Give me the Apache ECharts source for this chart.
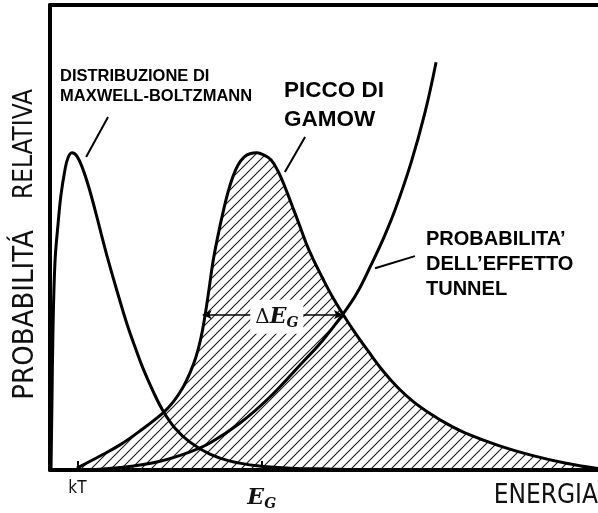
<!DOCTYPE html>
<html><head><meta charset="utf-8">
<script src="https://cdn.jsdelivr.net/npm/echarts@6/dist/echarts.min.js"></script>
<style>html,body{margin:0;padding:0;background:#fff}#c{width:598px;height:513px}</style>
</head><body><div id="c"></div>
<script>
// Energy in units (kT ~ 1.1), probability in relative units 0..100
const mbEnergy = [0.04, 0.08, 0.12, 0.20, 0.32, 0.44, 0.60, 0.72, 0.88, 1.08, 1.32, 1.57, 1.81, 2.05, 2.29, 2.69, 3.09, 3.41, 3.73, 4.14, 4.54, 5.02, 5.62, 6.42, 7.23, 8.31, 9.64, 11.24, 13.25];
const mbProb   = [0, 15.1, 30.1, 44.7, 52.7, 59.1, 64.5, 67.1, 68.2, 67.5, 64.7, 60.6, 55.9, 50.9, 46.0, 38.5, 31.4, 26.5, 21.9, 16.9, 12.7, 9.0, 6.0, 3.4, 1.9, 0.9, 0.4, 0.2, 0];

const gamowEnergy = [1.08, 2.01, 2.81, 3.61, 4.54, 4.94, 5.30, 5.62, 5.86, 6.06, 6.22, 6.38, 6.54, 6.74, 6.95, 7.15, 7.35, 7.55, 7.79, 8.03, 8.31, 8.59, 8.87, 9.15, 9.43, 9.71, 10.04, 10.28, 10.56, 10.92, 11.32, 11.76, 12.25, 12.77, 13.37, 13.97, 14.61, 15.30, 15.98, 16.66, 17.99, 19.31, 20.67, 22.00];
const gamowProb   = [0.4, 3.0, 5.4, 8.4, 12.3, 14.6, 17.4, 20.9, 24.3, 28.4, 33.1, 38.7, 44.7, 50.3, 55.5, 59.8, 63.2, 65.6, 67.3, 68.0, 68.2, 67.7, 66.7, 64.3, 60.9, 57.0, 52.3, 48.8, 45.4, 41.5, 37.4, 33.5, 29.5, 25.6, 21.3, 17.7, 14.6, 12.0, 9.8, 8.0, 5.3, 3.2, 1.5, 0.3];

const tunnelEnergy = [1.41, 2.93, 4.42, 5.62, 6.42, 7.63, 8.83, 10.04, 10.92, 11.76, 12.33, 12.89, 13.41, 13.85, 14.49, 15.05, 15.50];
const tunnelProb   = [0, 0.6, 1.9, 3.9, 5.8, 10.1, 15.7, 22.6, 27.7, 33.5, 38.1, 44.1, 50.1, 55.9, 66.0, 76.8, 87.7];

const tickValues = [1.1, 8.5];
const tickLabels = ['kT', 'E_G'];

const deltaEG = { from: 6.13, to: 11.76, level: 33.4 };

const leaderMB = [[1.45, 67.3], [2.33, 75.9]];
const leaderGamow = [[9.43, 64.1], [10.24, 71.6]];
const leaderTunnel = [[13.05, 43.4], [14.65, 46.0]];

const zip = (xs, ys) => xs.map((x, i) => [x, ys[i]]);

// hatch pattern
const S = 10;
const pat = document.createElement('canvas');
pat.width = S; pat.height = S;
const pc = pat.getContext('2d');
pc.strokeStyle = '#1a1a1a';
pc.lineWidth = 1.1;
pc.beginPath();
pc.moveTo(-1, S + 1); pc.lineTo(S + 1, -1);
pc.moveTo(-S / 2 - 1, S / 2 + 1); pc.lineTo(S / 2 + 1, -S / 2 - 1);
pc.moveTo(S / 2 - 1, S * 1.5 + 1); pc.lineTo(S * 1.5 + 1, S / 2 - 1);
pc.stroke();

const condensed = '"DejaVu Sans Condensed", "Liberation Sans Narrow", "DejaVu Sans", sans-serif';
const boldSans = '"Liberation Sans", Arial, sans-serif';
const serif = '"DejaVu Serif", "Liberation Serif", serif';

const chart = echarts.init(document.getElementById('c'), null, { renderer: 'canvas' });

const leaderLine = (pts) => [{ coord: pts[0] }, { coord: pts[1] }];

chart.setOption({
  backgroundColor: '#fff',
  animation: false,
  grid: { left: 50, right: 0, top: 5, bottom: 43 },
  xAxis: [{
    type: 'value', min: 0, max: 22,
    axisLine: { show: true, onZero: false, lineStyle: { color: '#000', width: 4 } },
    axisTick: { show: true, inside: true, length: 9, customValues: tickValues, lineStyle: { color: '#000', width: 2 } },
    axisLabel: {
      show: true, customValues: tickValues, margin: 10,
      formatter: (v) => {
        const i = tickValues.indexOf(v);
        const t = tickLabels[i] || '';
        if (t.indexOf('_') >= 0) { const p = t.split('_'); return '{e|' + p[0] + '}{g|' + p[1] + '}'; }
        return '{k|' + t + '}';
      },
      rich: {
        k: { fontFamily: condensed, fontSize: 17, color: '#111' },
        e: { fontFamily: serif, fontSize: 22, fontWeight: 'bold', fontStyle: 'italic', color: '#111', padding: [6, 0, 0, 0] },
        g: { fontFamily: serif, fontSize: 14, fontWeight: 'bold', fontStyle: 'italic', color: '#111', padding: [17, 0, 0, 0] }
      }
    },
    splitLine: { show: false }
  }, {
    type: 'value', min: 0, max: 22, position: 'top',
    axisLine: { show: true, onZero: false, lineStyle: { color: '#000', width: 4 } },
    axisTick: { show: false }, axisLabel: { show: false }, splitLine: { show: false }
  }],
  yAxis: {
    type: 'value', min: 0, max: 100,
    axisLine: { show: true, onZero: false, lineStyle: { color: '#000', width: 4 } },
    axisTick: { show: false }, axisLabel: { show: false }, splitLine: { show: false }
  },
  series: [
    {
      name: 'Gamow', type: 'line', data: zip(gamowEnergy, gamowProb), smooth: 0.4,
      showSymbol: false, symbol: 'none', z: 3,
      lineStyle: { color: '#000', width: 3 },
      areaStyle: { color: { image: pat, repeat: 'repeat' }, opacity: 1, origin: 'start' },
      markLine: {
        silent: true, animation: false,
        lineStyle: { color: '#000', width: 1.5, type: 'solid' },
        symbol: ['arrow', 'arrow'], symbolSize: [7, 9],
        label: {
          show: true, position: 'middle', distance: 0, verticalAlign: 'middle', offset: [4, 2],
          formatter: '{d|Δ}{e|E}{g|G}',
          backgroundColor: '#fff', padding: [5, 5, 3, 5],
          rich: {
            d: { fontFamily: serif, fontSize: 20, color: '#111' },
            e: { fontFamily: serif, fontSize: 22, fontWeight: 'bold', fontStyle: 'italic', color: '#111' },
            g: { fontFamily: serif, fontSize: 14, fontWeight: 'bold', fontStyle: 'italic', color: '#111', padding: [12, 0, 0, 0] }
          }
        },
        data: [[{ coord: [deltaEG.from, deltaEG.level] }, { coord: [deltaEG.to, deltaEG.level] }]]
      }
    },
    {
      name: 'Maxwell-Boltzmann', type: 'line', data: zip(mbEnergy, mbProb), smooth: 0.4,
      showSymbol: false, symbol: 'none', z: 4,
      lineStyle: { color: '#000', width: 3 },
      markLine: {
        silent: true, animation: false, symbol: ['none', 'none'],
        lineStyle: { color: '#000', width: 2, type: 'solid' },
        label: { show: false },
        data: [leaderLine(leaderMB), leaderLine(leaderGamow), leaderLine(leaderTunnel)]
      }
    },
    {
      name: 'Tunnel', type: 'line', data: zip(tunnelEnergy, tunnelProb), smooth: 0.4,
      showSymbol: false, symbol: 'none', z: 4,
      lineStyle: { color: '#000', width: 3 }
    }
  ],
  graphic: [
    { type: 'text', left: 60, top: 66, z: 10, style: { text: 'DISTRIBUZIONE DI\nMAXWELL-BOLTZMANN', font: 'bold 16.5px ' + boldSans, lineHeight: 20, fill: '#000' } },
    { type: 'text', left: 284, top: 76, z: 10, style: { text: 'PICCO DI\nGAMOW', font: 'bold 22.5px ' + boldSans, lineHeight: 29, fill: '#000' } },
    { type: 'text', left: 426, top: 227, z: 10, style: { text: 'PROBABILITA’\nDELL’EFFETTO\nTUNNEL', font: 'bold 20px ' + boldSans, lineHeight: 25, fill: '#000' } },
    { type: 'text', x: 25, y: 315, rotation: Math.PI / 2, z: 10, style: { text: 'PROBABILITÁ', font: '29px ' + condensed, fill: '#111', align: 'center', verticalAlign: 'middle' } },
    { type: 'text', x: 25, y: 144, rotation: Math.PI / 2, z: 10, style: { text: 'RELATIVA', font: '26px ' + condensed, fill: '#111', align: 'center', verticalAlign: 'middle' } },
    { type: 'text', x: 598, y: 496, z: 10, style: { text: 'ENERGIA', font: '26px ' + condensed, fill: '#111', align: 'right', verticalAlign: 'middle' } }
  ]
});
</script>
</body></html>
